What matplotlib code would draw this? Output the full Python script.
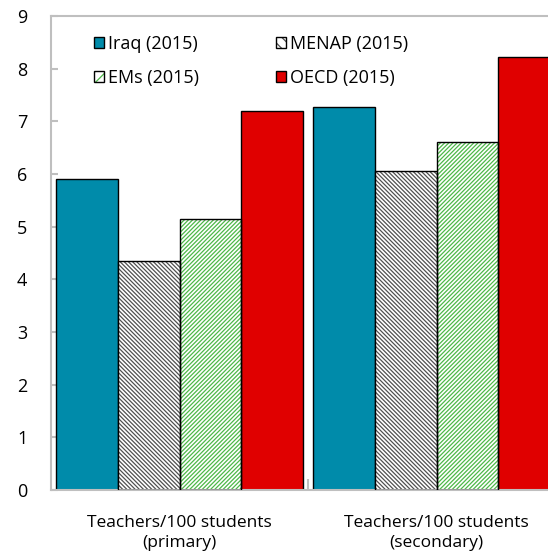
import matplotlib
matplotlib.use("Agg")
import matplotlib.pyplot as plt
import numpy as np
from matplotlib.patches import Patch

categories = ["Teachers/100 students\n(primary)", "Teachers/100 students\n(secondary)"]
series = ["Iraq (2015)", "MENAP (2015)", "EMs (2015)", "OECD (2015)"]
iraq = [5.9, 7.28]
menap = [4.35, 6.05]
ems = [5.15, 6.6]
oecd = [7.2, 8.22]
yticks = list(range(0, 10))

plt.rcParams['font.family'] = ['Open Sans', 'DejaVu Sans']
plt.rcParams['hatch.linewidth'] = 0.9

fig = plt.figure(figsize=(5.48, 5.54), dpi=100)
ax = fig.add_axes([51/548, 64/554, 514/548, 474/554])

w = 0.2393
x = np.arange(len(categories))
styles = [
    dict(face="#008BAA", hatch=None, hcol=None),
    dict(face="white", hatch="\\" * 8, hcol="#505050"),
    dict(face="white", hatch="/" * 8, hcol="#4DB848"),
    dict(face="#E00000", hatch=None, hcol=None),
]
data = [iraq, menap, ems, oecd]
handles = []
for i, (vals, st, name) in enumerate(zip(data, styles, series)):
    pos = x + (i - 1.5) * w
    if st["hatch"]:
        ax.bar(pos, vals, w, color=st["face"], edgecolor=st["hcol"], hatch=st["hatch"], linewidth=0, zorder=2)
        ax.bar(pos, vals, w, fill=False, edgecolor="black", linewidth=1.0, zorder=3)
        h = (Patch(facecolor=st["face"], edgecolor=st["hcol"], hatch=st["hatch"][:3], linewidth=0),
             Patch(fill=False, edgecolor="black", linewidth=1.0))
    else:
        ax.bar(pos, vals, w, color=st["face"], edgecolor="black", linewidth=1.0, zorder=2)
        h = Patch(facecolor=st["face"], edgecolor="black", linewidth=1.0)
    handles.append(h)

ax.set_xlim(-0.5, 1.5)
ax.set_ylim(0, 9)
ax.set_yticks(yticks)
ax.set_xticks(x)
ax.set_xticklabels(categories, fontsize=12.5, linespacing=1.35)
ax.set_xticks([0.5], minor=True)
ax.tick_params(axis='x', which='major', length=0, pad=18)
ax.tick_params(axis='x', which='minor', length=8, direction='in', color="#BFBFBF", width=1.5)
ax.tick_params(axis='y', length=5, direction='in', color="#BFBFBF", width=1.5, labelsize=13, pad=17)
for s in ['left', 'top', 'bottom', 'right']:
    ax.spines[s].set_color("#BFBFBF")
    ax.spines[s].set_linewidth(1.5)

common = dict(loc='upper left', frameon=False, fontsize=13, handlelength=0.55,
              handleheight=0.55, handletextpad=0.22, labelspacing=0.9,
              borderpad=0, borderaxespad=0, bbox_transform=fig.transFigure)
leg1 = ax.legend([handles[0], handles[2]], [series[0], series[2]],
                 bbox_to_anchor=(94/548, 1 - 35/554), **common)
ax.add_artist(leg1)
leg2 = ax.legend([handles[1], handles[3]], [series[1], series[3]],
                 bbox_to_anchor=(276/548, 1 - 35/554), **common)

fig.savefig("out.png", dpi=100)
